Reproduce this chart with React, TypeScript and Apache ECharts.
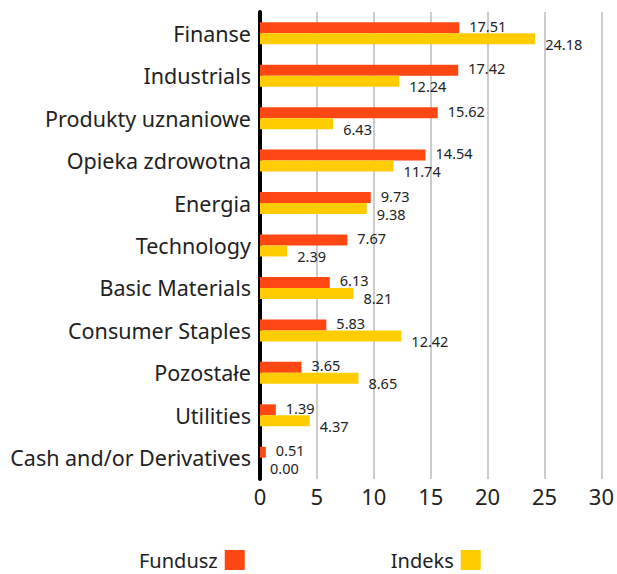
import React, { useEffect, useRef } from "react";
import * as echarts from "echarts";

const categories = [
  "Finanse",
  "Industrials",
  "Produkty uznaniowe",
  "Opieka zdrowotna",
  "Energia",
  "Technology",
  "Basic Materials",
  "Consumer Staples",
  "Pozostałe",
  "Utilities",
  "Cash and/or Derivatives",
];
const funduszValues = [17.51, 17.42, 15.62, 14.54, 9.73, 7.67, 6.13, 5.83, 3.65, 1.39, 0.51];
const indeksValues = [24.18, 12.24, 6.43, 11.74, 9.38, 2.39, 8.21, 12.42, 8.65, 4.37, 0.0];
const xTicks = { min: 0, max: 30, interval: 5 };

const FONT = "'Noto Sans', sans-serif";

export default function App() {
  const ref = useRef<HTMLDivElement>(null);
  useEffect(() => {
    document.body.style.margin = "0";
    const chart = echarts.init(ref.current!, undefined, { renderer: "svg" });
    const labelCommon = {
      show: true,
      position: "right" as const,
      distance: 10,
      fontSize: 14.5,
      fontFamily: FONT,
      color: "#222",
      formatter: (p: any) => Number(p.value).toFixed(2),
    };
    chart.setOption({
      animation: false,
      textStyle: { fontFamily: FONT },
      grid: { left: 260, right: 13, top: 12, bottom: 95, containLabel: false },
      legend: {
        data: ["Fundusz", "Indeks"],
        left: 134,
        top: 545,
        align: "right",
        itemWidth: 20,
        itemHeight: 20,
        itemGap: 146,
        icon: "rect",
        textStyle: { fontSize: 20, lineHeight: 20, color: "#222", fontFamily: FONT, padding: [0, 2, 0, 0] },
      },
      xAxis: {
        type: "value",
        min: xTicks.min,
        max: xTicks.max,
        interval: xTicks.interval,
        axisLine: { show: false },
        axisTick: { show: false },
        axisLabel: { fontSize: 22, color: "#222", margin: 6, fontFamily: FONT },
        splitLine: { show: true, lineStyle: { color: "#cccccc", width: 2 } },
      },
      yAxis: {
        type: "category",
        data: categories,
        inverse: true,
        axisLine: { show: true, lineStyle: { color: "#000", width: 4 } },
        axisTick: { show: false },
        axisLabel: { fontSize: 21.5, color: "#222", margin: 9, fontFamily: FONT },
        splitLine: { show: false },
      },
      series: [
        {
          name: "Fundusz",
          type: "bar",
          data: funduszValues,
          barWidth: 11,
          barGap: "0%",
          itemStyle: { color: "#FF4713" },
          label: { ...labelCommon, offset: [0, -2] },
        },
        {
          name: "Indeks",
          type: "bar",
          data: indeksValues,
          barWidth: 11,
          barGap: "0%",
          itemStyle: { color: "#FFCC00" },
          label: { ...labelCommon, offset: [0, 5] },
        },
      ],
    });
    return () => chart.dispose();
  }, []);
  return <div ref={ref} style={{ width: 617, height: 574 }} />;
}
